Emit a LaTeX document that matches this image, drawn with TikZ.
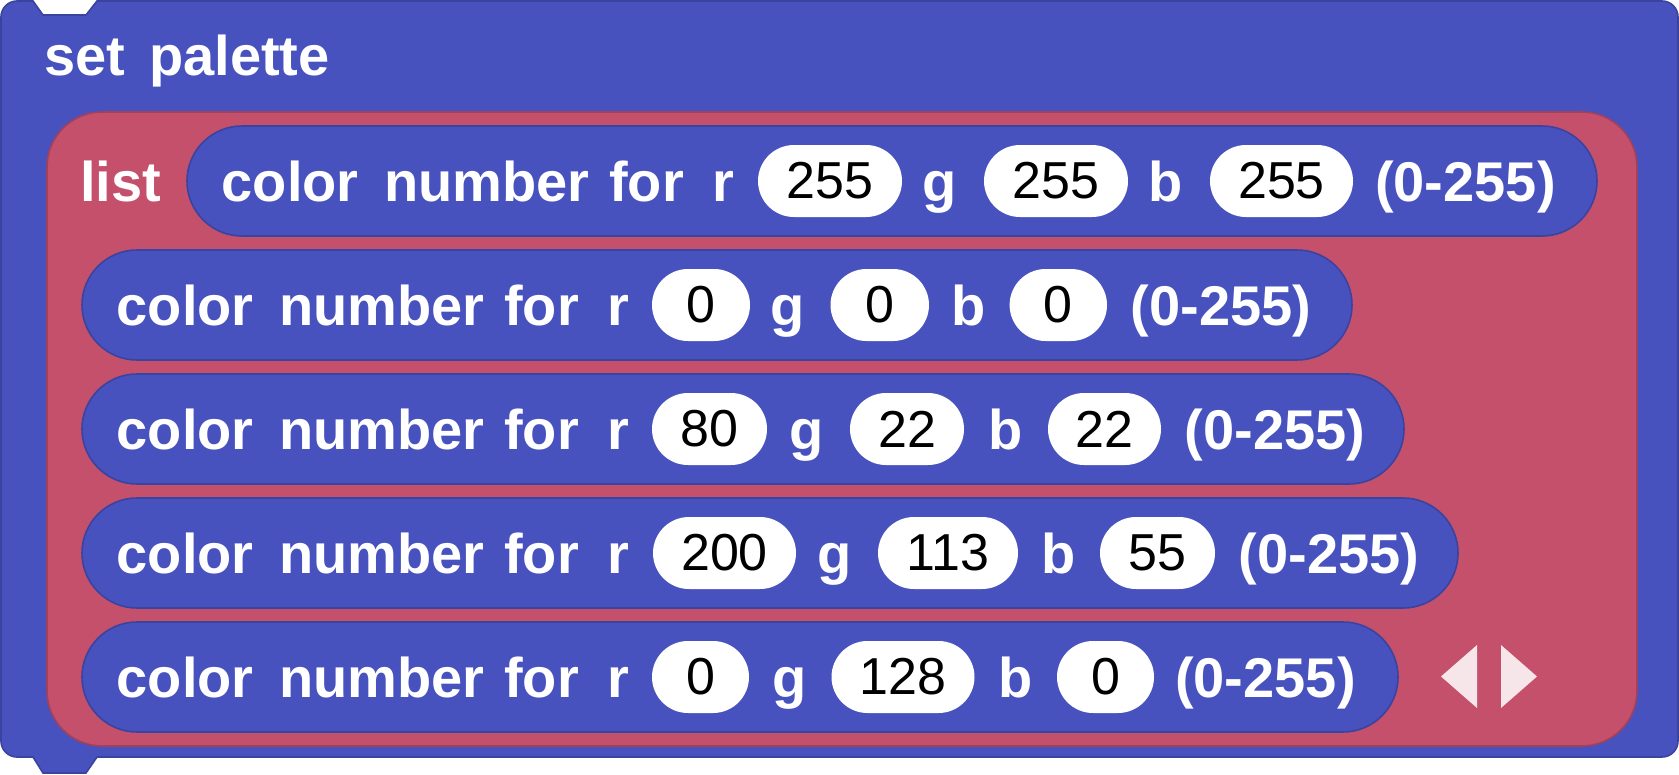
\documentclass[tikz,border=0pt]{standalone}
\usepackage{fontspec}
\setmainfont{Liberation Sans}
\usetikzlibrary{shapes.misc}
\definecolor{blkblue}{HTML}{4752BF}
\definecolor{blkblueline}{HTML}{3A439E}
\definecolor{blkred}{HTML}{C4506C}
\definecolor{blkredline}{HTML}{A3405A}
\definecolor{arrowpink}{HTML}{F6E6EA}
\tikzset{
  outerblock/.style={fill=blkblue, draw=blkblueline, line width=1.6pt},
  listblock/.style={fill=blkred, draw=blkredline, line width=1.6pt, rounded corners=55pt},
  rowbox/.style={fill=blkblue, draw=blkblueline, line width=1.6pt, rounded corners=55pt},
  wtxt/.style={text=white, inner sep=0pt, anchor=base west, font=\fontsize{56}{60}\selectfont\bfseries},
  pillbox/.style={rounded rectangle, fill=white, draw=none, inner sep=0pt, minimum height=72pt,
    text=black, font=\fontsize{52}{56}\selectfont},
  tri/.style={fill=arrowpink, draw=none}
}
\newcommand\wl[4]{\node[wtxt] (#1) at (#2-3,#3+20) {#4};}
\newcommand\pl[5]{\node[pillbox, minimum width={#3-#2}] (#1) at ({(#2+#3)/2},#4) {#5};}
\newcommand\prefix[3]{%
  \wl{#1c}{#2+37.5}{#3}{color}
  \wl{#1n}{#2+200}{#3}{number}
  \wl{#1f}{#2+425}{#3}{for}
  \wl{#1r}{#2+528}{#3}{r}}
\begin{document}
\begin{tikzpicture}[x=1pt,y=-1pt]
\useasboundingbox (0,0) rectangle (1679,774);
\fill[white] (0,0) rectangle (1679,774);
% outer block with notch and tab (y axis points down, so arc angles are mirrored)
\draw[outerblock] (17,1) -- (33,1) -- (43,15) -- (86,15) -- (97,1) -- (1662,1)
  arc[start angle=270, end angle=360, radius=16] -- (1678,741)
  arc[start angle=0, end angle=90, radius=16] -- (97,757) -- (86,773) -- (43,773) -- (33,757) -- (17,757)
  arc[start angle=90, end angle=180, radius=16] -- (1,17)
  arc[start angle=180, end angle=270, radius=16] -- cycle;
\node[wtxt] (set) at (44,75) {set};
\node[wtxt] (palette) at (149,75) {palette};
% list block
\draw[listblock] (47,112) rectangle (1637,746);
\node[wtxt] (list) at (80,201) {list};
% row 1
\draw[rowbox] (187,126) rectangle (1597,236);
\prefix{ra}{187}{181}
\pl{ra1}{758}{902}{181}{255}
\wl{rag}{925}{181}{g}
\pl{ra2}{984}{1128}{181}{255}
\wl{rab}{1151}{181}{b}
\pl{ra3}{1210}{1353}{181}{255}
\wl{rar}{1378}{181}{(0-255)}
% row 2
\draw[rowbox] (82,250) rectangle (1352,360);
\prefix{rb}{82}{305}
\pl{rb1}{652}{750}{305}{0}
\wl{rbg}{773}{305}{g}
\pl{rb2}{830.5}{929}{305}{0}
\wl{rbb}{954.5}{305}{b}
\pl{rb3}{1009.6}{1107}{305}{0}
\wl{rbr}{1133.6}{305}{(0-255)}
% row 3
\draw[rowbox] (82,374) rectangle (1404,484);
\prefix{rc}{82}{429}
\pl{rc1}{652}{767}{429}{80}
\wl{rcg}{792}{429}{g}
\pl{rc2}{850}{964}{429}{22}
\wl{rcb}{991}{429}{b}
\pl{rc3}{1048}{1161}{429}{22}
\wl{rcr}{1187.6}{429}{(0-255)}
% row 4
\draw[rowbox] (82,498) rectangle (1458,608);
\prefix{rd}{82}{553}
\pl{rd1}{653}{796}{553}{200}
\wl{rdg}{820}{553}{g}
\pl{rd2}{878}{1018}{553}{113}
\wl{rdb}{1044}{553}{b}
\pl{rd3}{1100}{1215}{553}{55}
\wl{rdr}{1241.5}{553}{(0-255)}
% row 5
\draw[rowbox] (82,622) rectangle (1398,732);
\prefix{re}{82}{677}
\pl{re1}{652}{749}{677}{0}
\wl{reg}{775}{677}{g}
\pl{re2}{831.5}{974.5}{677}{128}
\wl{reb}{1001}{677}{b}
\pl{re3}{1057}{1154}{677}{0}
\wl{rer}{1178}{677}{(0-255)}
% mutator arrows
\fill[tri] (1477,645) -- (1477,708) -- (1441,676.5) -- cycle;
\fill[tri] (1501,645) -- (1501,708) -- (1537,676.5) -- cycle;
\end{tikzpicture}
\end{document}
